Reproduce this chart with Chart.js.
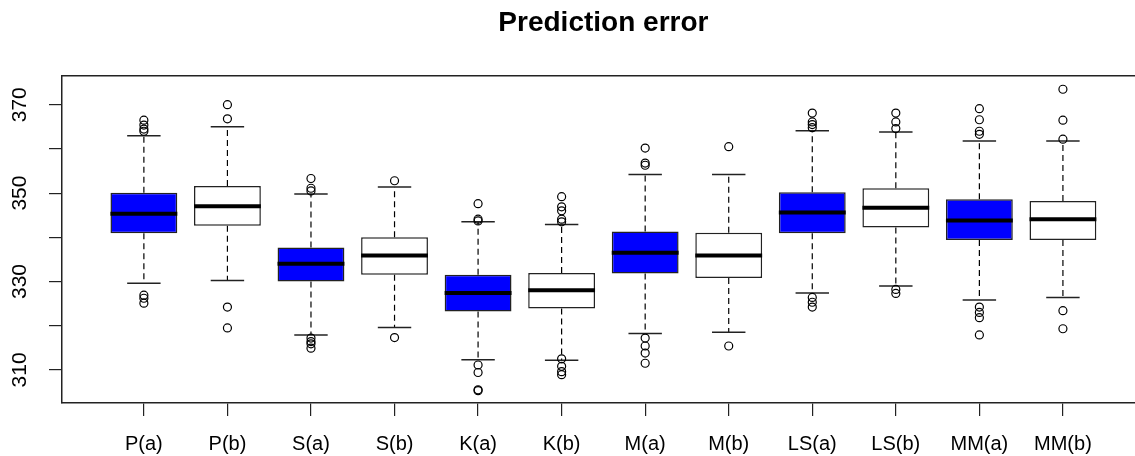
<!DOCTYPE html>
<html>
<head>
<meta charset="utf-8">
<script src="https://cdn.jsdelivr.net/npm/chart.js@4/dist/chart.umd.min.js"></script>
<style>
  html, body { margin: 0; padding: 0; background: #fff; overflow: hidden; }
  #wrap { width: 1150px; height: 456px; }
</style>
</head>
<body>
<div id="wrap"><canvas id="errChart" width="1150" height="456"></canvas></div>
<script>
// box statistics
const categories = ['P(a)', 'P(b)', 'S(a)', 'S(b)', 'K(a)', 'K(b)', 'M(a)', 'M(b)', 'LS(a)', 'LS(b)', 'MM(a)', 'MM(b)'];
const lowerWhisker = [329.6, 330.2, 317.9, 319.6, 312.3, 312.2, 318.2, 318.5, 327.4, 329.0, 325.8, 326.4];
const q1 = [340.9, 342.6, 330.0, 331.5, 323.2, 323.9, 331.8, 330.8, 340.9, 342.2, 339.4, 339.4];
const median = [345.3, 347.0, 334.0, 335.9, 327.4, 328.0, 336.5, 335.9, 345.6, 346.7, 343.8, 344.1];
const q3 = [350.1, 351.6, 337.7, 340.0, 331.5, 331.9, 341.3, 341.0, 350.2, 351.1, 348.6, 348.2];
const upperWhisker = [363.0, 365.0, 349.8, 351.4, 343.5, 342.9, 354.2, 354.2, 364.1, 363.8, 361.8, 361.8];
const outliers = [
  [366.5, 365.4, 364.5, 364.0, 326.9, 326.2, 325.1],
  [370.0, 366.8, 324.2, 319.5],
  [353.3, 351.1, 350.5, 317.2, 316.4, 315.9, 314.9],
  [352.8, 317.3],
  [347.6, 344.1, 343.7, 311.1, 309.4, 305.5, 305.3],
  [349.2, 346.9, 346.0, 344.1, 343.5, 312.5, 310.8, 309.6, 308.9],
  [360.2, 356.8, 356.3, 317.2, 315.4, 313.8, 311.5],
  [360.5, 315.4],
  [368.1, 366.1, 365.5, 364.8, 326.4, 325.3, 324.2],
  [368.1, 366.1, 364.6, 328.2, 327.3],
  [369.1, 366.6, 364.0, 363.3, 324.2, 323.0, 321.8, 317.9],
  [373.5, 366.5, 362.2, 323.4, 319.3]
];
const yTicks = [310, 320, 330, 340, 350, 360, 370];
const yLabels = [310, 330, 350, 370];

const FONT = "'Liberation Sans', Arial, sans-serif";
const pos = categories.map((c, i) => i + 1);

const boxData = pos.map((p, i) => ({ x: p, y: [q1[i], q3[i]] }));
const medianData = pos.map((p, i) => ({ x: p, y: median[i] }));
const capData = [];
const whiskerData = [];
const outlierData = [];
pos.forEach((p, i) => {
    capData.push({ x: p, y: lowerWhisker[i] }, { x: p, y: upperWhisker[i] });
    whiskerData.push({ x: p, y: q3[i] }, { x: p, y: upperWhisker[i] }, { x: p, y: null });
    whiskerData.push({ x: p, y: q1[i] }, { x: p, y: lowerWhisker[i] }, { x: p, y: null });
    outliers[i].forEach(v => outlierData.push({ x: p, y: v }));
});

// half width in px of a span of category units, taken from the x scale
function halfWidth(units) {
    return ctx => {
        const sx = ctx.chart.scales.x;
        if (!sx) return 0;
        return Math.abs(sx.getPixelForValue(1 + units) - sx.getPixelForValue(1));
    };
}

const chart = new Chart(document.getElementById('errChart').getContext('2d'), {
    data: {
        datasets: [
            {
                type: 'line',
                data: medianData,
                showLine: false,
                pointStyle: 'line',
                pointRadius: halfWidth(0.4),
                pointBorderWidth: 4,
                pointBorderColor: '#000',
                order: 0
            },
            {
                type: 'scatter',
                data: outlierData,
                pointStyle: 'circle',
                pointRadius: 4,
                pointBorderWidth: 1.2,
                pointBorderColor: '#000',
                pointBackgroundColor: 'rgba(0,0,0,0)',
                order: 0
            },
            {
                type: 'bar',
                data: boxData,
                backgroundColor: pos.map((p, i) => i % 2 === 0 ? '#0000ff' : '#ffffff'),
                borderColor: '#222',
                borderWidth: 1.5,
                borderSkipped: false,
                categoryPercentage: 1,
                barPercentage: 0.8,
                order: 1
            },
            {
                type: 'line',
                data: capData,
                showLine: false,
                pointStyle: 'line',
                pointRadius: halfWidth(0.2),
                pointBorderWidth: 1.5,
                pointBorderColor: '#222',
                order: 2
            },
            {
                type: 'line',
                data: whiskerData,
                borderColor: '#000',
                borderWidth: 1.2,
                borderDash: [6, 4],
                pointRadius: 0,
                spanGaps: false,
                order: 3
            }
        ]
    },
    options: {
        responsive: false,
        animation: false,
        events: [],
        // canvas is wider than the window: the plot frame runs past the right edge
        layout: { padding: { left: 0, right: 4.5, top: 0, bottom: 0 } },
        plugins: {
            legend: { display: false },
            tooltip: { enabled: false },
            title: {
                display: true,
                text: 'Prediction error',
                fullSize: false,
                color: '#000',
                font: { family: FONT, size: 28, weight: 'bold' },
                padding: { top: 6, bottom: 36.4 }
            }
        },
        scales: {
            x: {
                type: 'linear',
                position: 'bottom',
                offset: false,
                min: 0.02,
                max: 12.98,
                afterBuildTicks: scale => { scale.ticks = pos.map(v => ({ value: v })); },
                afterFit: scale => { scale.height = 53; },
                grid: { display: true, offset: false, drawOnChartArea: false, drawTicks: true, tickLength: 13, color: '#222', lineWidth: 1.2 },
                border: { display: true, color: '#222', width: 1.5 },
                ticks: {
                    autoSkip: false,
                    maxRotation: 0,
                    minRotation: 0,
                    padding: 16,
                    color: '#000',
                    font: { family: FONT, size: 20 },
                    callback: v => categories[v - 1]
                }
            },
            xTop: {
                type: 'linear',
                position: 'top',
                offset: false,
                min: 0.02,
                max: 12.98,
                afterFit: scale => { scale.height = 0; },
                grid: { display: false, drawTicks: false },
                border: { display: true, color: '#222', width: 1.5 },
                ticks: { display: false }
            },
            y: {
                type: 'linear',
                min: 302.5,
                max: 376.5,
                afterBuildTicks: scale => { scale.ticks = yTicks.map(v => ({ value: v })); },
                afterFit: scale => { scale.width = 62; },
                grid: { display: true, drawOnChartArea: false, drawTicks: true, tickLength: 13, color: '#222', lineWidth: 1.2 },
                border: { display: true, color: '#222', width: 1.5 },
                ticks: {
                    minRotation: 90,
                    maxRotation: 90,
                    crossAlign: 'center',
                    padding: 11,
                    color: '#000',
                    font: { family: FONT, size: 21 },
                    callback: v => yLabels.includes(v) ? String(v) : ''
                }
            }
        }
    }
});
</script>
</body>
</html>
